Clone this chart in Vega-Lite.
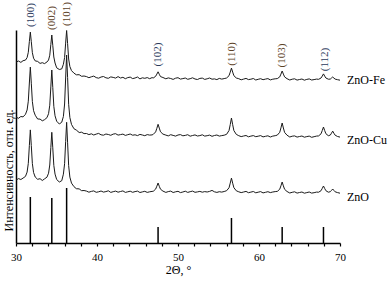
{
  "$schema": "https://vega.github.io/schema/vega-lite/v6.json",
  "width": 324,
  "height": 213,
  "autosize": "none",
  "padding": {"left": 16, "top": 30, "right": 49, "bottom": 39},
  "background": "white",
  "view": {"stroke": null},
  "datasets": {
    "xrd": [
      {"t":30.0,"fe":180.8,"cu":125.9,"zno":62.8},
      {"t":30.3,"fe":182.0,"cu":124.7,"zno":64.4},
      {"t":30.6,"fe":180.6,"cu":126.5,"zno":63.5},
      {"t":30.87,"fe":182.3,"cu":126.1,"zno":64.9},
      {"t":31.17,"fe":182.9,"cu":128.7,"zno":66.6},
      {"t":31.37,"fe":185.4,"cu":133.0,"zno":70.9},
      {"t":31.52,"fe":190.7,"cu":141.8,"zno":79.6},
      {"t":31.65,"fe":201.5,"cu":160.0,"zno":97.5},
      {"t":31.77,"fe":210.9,"cu":175.9,"zno":113.1},
      {"t":31.89,"fe":201.3,"cu":159.8,"zno":97.4},
      {"t":32.02,"fe":190.3,"cu":141.4,"zno":79.4},
      {"t":32.17,"fe":184.8,"cu":132.3,"zno":70.5},
      {"t":32.37,"fe":182.1,"cu":127.8,"zno":66.0},
      {"t":32.67,"fe":181.6,"cu":124.0,"zno":63.7},
      {"t":32.97,"fe":179.6,"cu":123.9,"zno":64.3},
      {"t":33.25,"fe":180.3,"cu":122.2,"zno":62.5},
      {"t":33.52,"fe":179.4,"cu":123.3,"zno":64.1},
      {"t":33.82,"fe":181.0,"cu":125.3,"zno":65.8},
      {"t":34.02,"fe":183.0,"cu":129.3,"zno":69.8},
      {"t":34.17,"fe":187.8,"cu":137.8,"zno":78.0},
      {"t":34.30,"fe":198.5,"cu":156.1,"zno":95.4},
      {"t":34.42,"fe":208.0,"cu":173.0,"zno":110.7},
      {"t":34.54,"fe":197.7,"cu":155.6,"zno":95.2},
      {"t":34.67,"fe":186.0,"cu":136.7,"zno":77.6},
      {"t":34.82,"fe":180.0,"cu":127.2,"zno":68.9},
      {"t":35.02,"fe":175.2,"cu":121.8,"zno":63.5},
      {"t":35.35,"fe":173.5,"cu":119.0,"zno":61.0},
      {"t":35.65,"fe":174.1,"cu":120.8,"zno":62.3},
      {"t":35.85,"fe":178.7,"cu":126.5,"zno":68.8},
      {"t":36.0,"fe":185.5,"cu":139.0,"zno":79.3},
      {"t":36.13,"fe":199.9,"cu":165.0,"zno":101.4},
      {"t":36.25,"fe":212.5,"cu":188.0,"zno":120.7},
      {"t":36.37,"fe":199.4,"cu":165.4,"zno":100.2},
      {"t":36.5,"fe":184.0,"cu":138.7,"zno":77.4},
      {"t":36.65,"fe":176.5,"cu":125.5,"zno":65.9},
      {"t":36.85,"fe":172.4,"cu":118.6,"zno":59.9},
      {"t":37.15,"fe":169.9,"cu":114.3,"zno":56.4},
      {"t":37.45,"fe":168.2,"cu":112.9,"zno":54.3},
      {"t":37.8,"fe":168.3,"cu":110.5,"zno":54.1},
      {"t":38.1,"fe":166.7,"cu":110.8,"zno":52.3},
      {"t":38.4,"fe":167.0,"cu":109.4,"zno":52.5},
      {"t":38.7,"fe":166.4,"cu":109.5,"zno":51.9},
      {"t":39.0,"fe":165.3,"cu":108.4,"zno":50.8},
      {"t":39.3,"fe":166.2,"cu":109.2,"zno":51.6},
      {"t":39.6,"fe":166.9,"cu":108.0,"zno":52.1},
      {"t":39.9,"fe":165.4,"cu":108.9,"zno":50.7},
      {"t":40.2,"fe":164.8,"cu":109.6,"zno":51.2},
      {"t":40.5,"fe":166.0,"cu":108.2,"zno":52.0},
      {"t":40.8,"fe":166.5,"cu":107.8,"zno":50.9},
      {"t":41.1,"fe":165.2,"cu":109.0,"zno":51.4},
      {"t":41.4,"fe":164.7,"cu":108.5,"zno":52.2},
      {"t":41.7,"fe":166.1,"cu":107.7,"zno":50.6},
      {"t":42.0,"fe":165.6,"cu":108.9,"zno":51.3},
      {"t":42.3,"fe":164.9,"cu":109.3,"zno":51.9},
      {"t":42.6,"fe":166.4,"cu":107.9,"zno":50.8},
      {"t":42.9,"fe":165.0,"cu":108.4,"zno":51.5},
      {"t":43.2,"fe":165.7,"cu":108.9,"zno":52.1},
      {"t":43.5,"fe":164.3,"cu":107.6,"zno":50.6},
      {"t":43.8,"fe":165.4,"cu":108.3,"zno":51.2},
      {"t":44.1,"fe":165.9,"cu":109.0,"zno":51.8},
      {"t":44.4,"fe":164.4,"cu":107.8,"zno":50.7},
      {"t":44.7,"fe":165.0,"cu":108.2,"zno":51.4},
      {"t":45.0,"fe":166.0,"cu":107.4,"zno":51.9},
      {"t":45.3,"fe":164.1,"cu":108.6,"zno":50.5},
      {"t":45.6,"fe":165.2,"cu":108.0,"zno":51.1},
      {"t":45.9,"fe":164.7,"cu":107.3,"zno":51.7},
      {"t":46.2,"fe":165.4,"cu":108.4,"zno":50.6},
      {"t":46.5,"fe":164.3,"cu":107.9,"zno":51.2},
      {"t":46.8,"fe":165.4,"cu":108.1,"zno":51.6},
      {"t":46.94,"fe":165.0,"cu":108.6,"zno":51.7},
      {"t":47.24,"fe":166.7,"cu":111.1,"zno":53.9},
      {"t":47.39,"fe":168.9,"cu":114.7,"zno":56.8},
      {"t":47.54,"fe":171.2,"cu":118.7,"zno":60.0},
      {"t":47.69,"fe":168.7,"cu":114.9,"zno":56.7},
      {"t":47.84,"fe":166.4,"cu":111.2,"zno":53.8},
      {"t":48.14,"fe":165.5,"cu":108.9,"zno":51.9},
      {"t":48.5,"fe":164.2,"cu":107.9,"zno":50.6},
      {"t":48.8,"fe":165.1,"cu":107.1,"zno":51.4},
      {"t":49.1,"fe":164.5,"cu":108.3,"zno":51.9},
      {"t":49.4,"fe":163.6,"cu":107.6,"zno":50.5},
      {"t":49.7,"fe":164.8,"cu":106.9,"zno":51.2},
      {"t":50.0,"fe":165.3,"cu":108.0,"zno":51.7},
      {"t":50.3,"fe":163.9,"cu":108.4,"zno":50.4},
      {"t":50.6,"fe":164.4,"cu":107.2,"zno":51.0},
      {"t":50.9,"fe":165.0,"cu":107.6,"zno":51.8},
      {"t":51.2,"fe":163.7,"cu":108.3,"zno":50.6},
      {"t":51.5,"fe":164.3,"cu":106.8,"zno":51.3},
      {"t":51.8,"fe":165.2,"cu":107.5,"zno":51.9},
      {"t":52.1,"fe":164.0,"cu":108.1,"zno":50.7},
      {"t":52.4,"fe":163.5,"cu":107.0,"zno":51.1},
      {"t":52.7,"fe":164.6,"cu":107.4,"zno":51.6},
      {"t":53.0,"fe":164.9,"cu":108.2,"zno":50.8},
      {"t":53.3,"fe":163.6,"cu":106.9,"zno":51.4},
      {"t":53.6,"fe":164.2,"cu":107.3,"zno":51.0},
      {"t":53.9,"fe":165.0,"cu":107.9,"zno":51.6},
      {"t":54.2,"fe":163.8,"cu":106.7,"zno":52.6},
      {"t":54.5,"fe":164.1,"cu":107.5,"zno":51.2},
      {"t":54.8,"fe":163.4,"cu":108.0,"zno":50.6},
      {"t":55.1,"fe":164.6,"cu":106.9,"zno":51.3},
      {"t":55.4,"fe":163.9,"cu":107.4,"zno":50.9},
      {"t":55.7,"fe":164.4,"cu":107.8,"zno":51.5},
      {"t":56.0,"fe":165.0,"cu":108.7,"zno":52.3},
      {"t":56.3,"fe":167.3,"cu":112.5,"zno":55.2},
      {"t":56.45,"fe":170.9,"cu":118.4,"zno":59.9},
      {"t":56.6,"fe":174.9,"cu":125.0,"zno":64.9},
      {"t":56.75,"fe":170.9,"cu":118.3,"zno":59.8},
      {"t":56.9,"fe":167.3,"cu":112.4,"zno":55.3},
      {"t":57.2,"fe":165.0,"cu":108.6,"zno":52.2},
      {"t":57.5,"fe":164.3,"cu":107.3,"zno":51.2},
      {"t":57.8,"fe":163.2,"cu":106.4,"zno":50.4},
      {"t":58.1,"fe":163.9,"cu":107.0,"zno":51.0},
      {"t":58.4,"fe":164.6,"cu":107.5,"zno":51.6},
      {"t":58.7,"fe":163.4,"cu":106.2,"zno":50.3},
      {"t":59.0,"fe":163.8,"cu":106.9,"zno":50.9},
      {"t":59.3,"fe":164.5,"cu":107.4,"zno":51.5},
      {"t":59.6,"fe":163.0,"cu":106.3,"zno":50.2},
      {"t":59.9,"fe":163.7,"cu":106.8,"zno":50.8},
      {"t":60.2,"fe":164.3,"cu":107.4,"zno":51.4},
      {"t":60.5,"fe":163.3,"cu":106.1,"zno":50.1},
      {"t":60.8,"fe":163.9,"cu":106.7,"zno":50.7},
      {"t":61.1,"fe":164.4,"cu":107.2,"zno":51.3},
      {"t":61.4,"fe":163.1,"cu":106.0,"zno":50.4},
      {"t":61.7,"fe":163.8,"cu":106.9,"zno":51.0},
      {"t":62.0,"fe":164.2,"cu":107.3,"zno":51.4},
      {"t":62.26,"fe":164.4,"cu":107.9,"zno":51.6},
      {"t":62.56,"fe":166.1,"cu":110.7,"zno":53.8},
      {"t":62.71,"fe":168.9,"cu":115.1,"zno":57.2},
      {"t":62.86,"fe":172.0,"cu":120.0,"zno":61.0},
      {"t":63.01,"fe":168.9,"cu":115.0,"zno":57.1},
      {"t":63.16,"fe":166.1,"cu":110.6,"zno":53.7},
      {"t":63.46,"fe":164.3,"cu":107.8,"zno":51.5},
      {"t":63.8,"fe":163.0,"cu":106.0,"zno":50.0},
      {"t":64.1,"fe":163.8,"cu":106.8,"zno":50.7},
      {"t":64.4,"fe":164.2,"cu":107.1,"zno":51.2},
      {"t":64.7,"fe":162.9,"cu":105.9,"zno":49.9},
      {"t":65.0,"fe":163.5,"cu":106.5,"zno":50.5},
      {"t":65.3,"fe":164.0,"cu":107.0,"zno":51.0},
      {"t":65.6,"fe":162.8,"cu":105.8,"zno":49.8},
      {"t":65.9,"fe":163.6,"cu":106.4,"zno":50.4},
      {"t":66.2,"fe":164.1,"cu":106.9,"zno":51.0},
      {"t":66.5,"fe":163.0,"cu":105.7,"zno":49.9},
      {"t":66.8,"fe":163.4,"cu":106.3,"zno":50.3},
      {"t":67.1,"fe":163.9,"cu":106.9,"zno":50.9},
      {"t":67.36,"fe":163.7,"cu":107.1,"zno":50.8},
      {"t":67.66,"fe":165.0,"cu":109.2,"zno":52.3},
      {"t":67.81,"fe":166.9,"cu":112.5,"zno":54.6},
      {"t":67.96,"fe":169.1,"cu":116.0,"zno":57.0},
      {"t":68.11,"fe":166.9,"cu":112.4,"zno":54.5},
      {"t":68.26,"fe":165.0,"cu":109.3,"zno":52.3},
      {"t":68.56,"fe":163.8,"cu":107.3,"zno":50.8},
      {"t":68.8,"fe":163.9,"cu":107.9,"zno":51.3},
      {"t":68.95,"fe":165.0,"cu":109.8,"zno":52.6},
      {"t":69.1,"fe":166.0,"cu":111.9,"zno":54.0},
      {"t":69.25,"fe":164.9,"cu":109.7,"zno":52.5},
      {"t":69.4,"fe":163.9,"cu":107.8,"zno":51.2},
      {"t":69.7,"fe":163.3,"cu":106.5,"zno":50.4},
      {"t":70.0,"fe":162.8,"cu":105.9,"zno":49.8}
    ],
    "sticks": [
      {"t":31.77,"h":46},
      {"t":34.42,"h":45},
      {"t":36.25,"h":55},
      {"t":47.54,"h":16},
      {"t":56.6,"h":25},
      {"t":62.86,"h":16},
      {"t":67.96,"h":16}
    ],
    "hkl": [
      {"t":31.85,"y":228,"label":"(100)","grp":"a"},
      {"t":34.47,"y":225,"label":"(002)","grp":"b"},
      {"t":36.3,"y":229,"label":"(101)","grp":"b"},
      {"t":47.57,"y":188.5,"label":"(102)","grp":"a"},
      {"t":56.67,"y":189,"label":"(110)","grp":"b"},
      {"t":62.88,"y":187.5,"label":"(103)","grp":"b"},
      {"t":68.1,"y":183.5,"label":"(112)","grp":"a"}
    ],
    "names": [
      {"t":70,"y":163,"label":"ZnO-Fe"},
      {"t":70,"y":103,"label":"ZnO-Cu"},
      {"t":70,"y":46.3,"label":"ZnO"}
    ]
  },
  "resolve": {"axis": {"x": "independent"}},
  "layer": [
    {
      "data": {"name": "xrd"},
      "transform": [{"fold": ["fe", "cu", "zno"], "as": ["series", "value"]}],
      "mark": {"type": "line", "color": "#1a1a1a", "strokeWidth": 1, "interpolate": "linear"},
      "encoding": {
        "x": {
          "field": "t", "type": "quantitative",
          "scale": {"domain": [30, 70], "nice": false, "zero": false},
          "axis": {
            "orient": "bottom",
            "values": [30, 40, 50, 60, 70],
            "format": "d",
            "labelOverlap": false,
            "tickSize": 3, "tickColor": "#000", "tickWidth": 1.2,
            "domainColor": "#000", "domainWidth": 1.5, "grid": false,
            "labelFont": "Liberation Serif", "labelFontSize": 11, "labelColor": "#000",
            "labelPadding": 5, "labelFlush": false,
            "title": "2Θ, °", "titleFont": "Liberation Serif", "titleFontSize": 12,
            "titleFontWeight": "normal", "titleColor": "#000", "titlePadding": 2
          }
        },
        "y": {
          "field": "value", "type": "quantitative",
          "scale": {"domain": [0, 213], "nice": false, "zero": false},
          "axis": {
            "ticks": false, "labels": false, "grid": false,
            "domainColor": "#000", "domainWidth": 1.5,
            "title": "Интенсивность, отн. ед.", "titleFont": "Liberation Serif",
            "titleFontSize": 12, "titleFontWeight": "normal", "titleColor": "#000",
            "titleAngle": 270, "titleX": -8, "titleY": 140,
            "titleAlign": "center", "titleBaseline": "middle"
          }
        },
        "detail": {"field": "series"}
      }
    },
    {
      "data": {"name": "sticks"},
      "mark": {"type": "rule", "color": "#000", "strokeWidth": 1.5},
      "encoding": {
        "x": {
          "field": "t", "type": "quantitative",
          "axis": {
            "orient": "bottom",
            "values": [32,34,36,38,42,44,46,48,52,54,56,58,62,64,66,68],
            "labels": false, "domain": false, "grid": false, "title": null,
            "tickSize": 3, "tickColor": "#000", "tickWidth": 1.2
          }
        },
        "y": {"field": "h", "type": "quantitative"},
        "y2": {"datum": 0}
      }
    },
    {
      "data": {"name": "hkl"},
      "mark": {"type": "text", "angle": 270, "align": "center", "baseline": "middle", "font": "Liberation Serif", "fontSize": 11},
      "encoding": {
        "x": {"field": "t", "type": "quantitative", "axis": null},
        "y": {"field": "y", "type": "quantitative"},
        "text": {"field": "label"},
        "color": {"field": "grp", "type": "nominal", "scale": {"domain": ["a", "b"], "range": ["#2b3a5c", "#5c4126"]}, "legend": null}
      }
    },
    {
      "data": {"name": "names"},
      "mark": {"type": "text", "align": "left", "baseline": "middle", "dx": 7, "font": "Liberation Serif", "fontSize": 12, "color": "#000"},
      "encoding": {
        "x": {"field": "t", "type": "quantitative", "axis": null},
        "y": {"field": "y", "type": "quantitative"},
        "text": {"field": "label"}
      }
    }
  ]
}
